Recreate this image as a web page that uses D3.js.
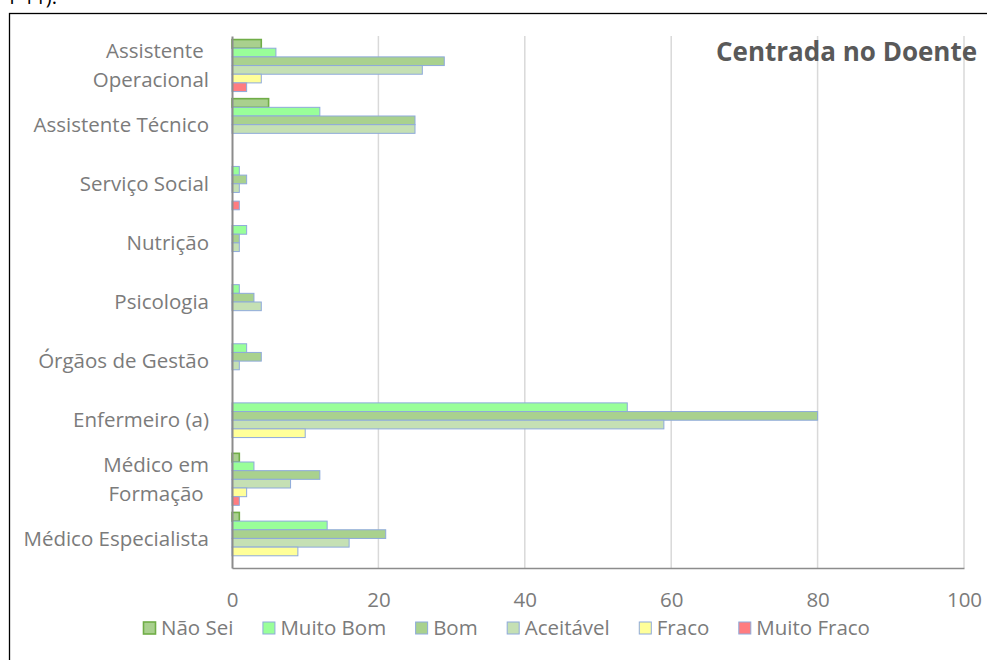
<!DOCTYPE html>
<html>
<head>
<meta charset="utf-8">
<script src="https://cdn.jsdelivr.net/npm/d3@7/dist/d3.min.js"></script>
<style>
  html, body { margin: 0; padding: 0; background: #fff; }
  svg { display: block; }
  text { font-family: "Open Sans", "Noto Sans", sans-serif; }
</style>
</head>
<body>
<svg id="chart" width="987" height="660"></svg>
<script>
// Categories, listed from the bottom row of the chart to the top row
const categories = [
  "Médico Especialista", "Médico em Formação", "Enfermeiro (a)", "Órgãos de Gestão",
  "Psicologia", "Nutrição", "Serviço Social", "Assistente Técnico", "Assistente Operacional"
];
// How each category label wraps onto lines
const categoryLines = [
  ["Médico Especialista"], ["Médico em", "Formação "], ["Enfermeiro (a)"], ["Órgãos de Gestão"],
  ["Psicologia"], ["Nutrição"], ["Serviço Social"], ["Assistente Técnico"], ["Assistente ", "Operacional"]
];

const seriesNames = ["Não Sei", "Muito Bom", "Bom", "Aceitável", "Fraco", "Muito Fraco"];
const naoSei     = [1, 1, 0, 0, 0, 0, 0, 5, 4];
const muitoBom   = [13, 3, 54, 2, 1, 2, 1, 12, 6];
const bom        = [21, 12, 80, 4, 3, 1, 2, 25, 29];
const aceitavel  = [16, 8, 59, 1, 4, 1, 1, 25, 26];
const fraco      = [9, 2, 10, 0, 0, 0, 0, 0, 4];
const muitoFraco = [0, 1, 0, 0, 0, 0, 1, 0, 2];
const xTicks = [0, 20, 40, 60, 80, 100];

const seriesValues = [naoSei, muitoBom, bom, aceitavel, fraco, muitoFraco];
const fills   = ["#a9d08e", "#99ff99", "#a9d18e", "#c5e0b4", "#ffff99", "#ff7c80"];
const strokes = ["#70ad47", "#8eaadb", "#8eaadb", "#8eaadb", "#8eaadb", "#8eaadb"];

const svg = d3.select("#chart");
const labelColor = "#7b7b7b";
const labelSize = 20.5;

// fragment of the preceding document line, cut by the top edge
svg.append("text").attr("x", 57).attr("y", 4).attr("text-anchor", "end")
  .attr("font-size", 20).attr("fill", "#000").text("r 11).");

// chart frame
svg.append("rect").attr("x", 9.5).attr("y", 13.5).attr("width", 1100).attr("height", 700)
  .attr("fill", "#fff").attr("stroke", "#000").attr("stroke-width", 1.3);

const plot = { left: 232, right: 964, top: 36, bottom: 568 };

const x = d3.scaleLinear().domain([0, 100]).range([plot.left, plot.right]);
const y = d3.scaleBand().domain(categories.slice().reverse())
  .range([plot.top, plot.bottom]).paddingInner(0.12).paddingOuter(0.06);
const ySeries = d3.scaleBand().domain(seriesNames).range([0, y.bandwidth()]);

// vertical gridlines
svg.append("g").selectAll("line").data(xTicks.filter(t => t > 0)).join("line")
  .attr("x1", d => x(d)).attr("x2", d => x(d))
  .attr("y1", plot.top).attr("y2", plot.bottom)
  .attr("stroke", "#d9d9d9").attr("stroke-width", 1.5);

// bars
const rows = svg.append("g").selectAll("g").data(categories).join("g")
  .attr("transform", c => `translate(0,${y(c)})`);
rows.each(function (c, ci) {
  const g = d3.select(this);
  seriesNames.forEach((s, si) => {
    const v = seriesValues[si][ci];
    if (!v) return;
    g.append("rect")
      .attr("x", x(0)).attr("y", ySeries(s))
      .attr("width", x(v) - x(0)).attr("height", ySeries.bandwidth())
      .attr("fill", fills[si]).attr("stroke", strokes[si])
      .attr("stroke-width", si === 0 ? 1.6 : 1);
  });
});

// bottom axis line and tick labels
const xAxis = d3.axisBottom(x).tickValues(xTicks).tickSize(0).tickPadding(24);
const gx = svg.append("g").attr("transform", `translate(0,${plot.bottom})`).call(xAxis);
gx.select(".domain").attr("stroke", "#8c8c8c").attr("stroke-width", 1.5);
gx.selectAll("text").attr("font-size", labelSize).attr("fill", labelColor)
  .attr("font-family", "'Open Sans', 'Noto Sans', sans-serif");

// left axis with wrapped category labels
const yAxis = d3.axisLeft(y).tickSize(0).tickFormat("");
const gy = svg.append("g").attr("transform", `translate(${plot.left},0)`).call(yAxis);
gy.select(".domain").attr("stroke", "#8c8c8c").attr("stroke-width", 2);

const lineGap = 29;
svg.append("g").selectAll("text").data(categories).join("text")
  .attr("text-anchor", "end").attr("font-size", labelSize).attr("fill", labelColor)
  .style("white-space", "pre")
  .each(function (c, ci) {
    const lines = categoryLines[ci];
    const cy = y(c) + y.bandwidth() / 2;
    const t = d3.select(this);
    lines.forEach((ln, li) => {
      t.append("tspan").attr("x", 209)
        .attr("y", cy + (li - (lines.length - 1) / 2) * lineGap)
        .attr("dy", "0.35em").text(ln);
    });
  });

// title
svg.append("text").attr("x", 716).attr("y", 61)
  .attr("font-size", 26).attr("font-weight", "bold").attr("fill", "#595959")
  .text("Centrada no Doente");

// legend
const legend = svg.append("g").attr("transform", "translate(143,628)");
let lx = 0;
seriesNames.forEach((s, si) => {
  const item = legend.append("g").attr("transform", `translate(${lx},0)`);
  item.append("rect").attr("x", 0.5).attr("y", -6).attr("width", 12).attr("height", 12)
    .attr("fill", fills[si]).attr("stroke", strokes[si]).attr("stroke-width", si === 0 ? 1.6 : 1);
  const t = item.append("text").attr("x", 18).attr("y", 0).attr("dy", "0.35em")
    .attr("font-size", labelSize).attr("fill", labelColor).text(s);
  lx += 18 + t.node().getComputedTextLength() + 29;
});
</script>
</body>
</html>
